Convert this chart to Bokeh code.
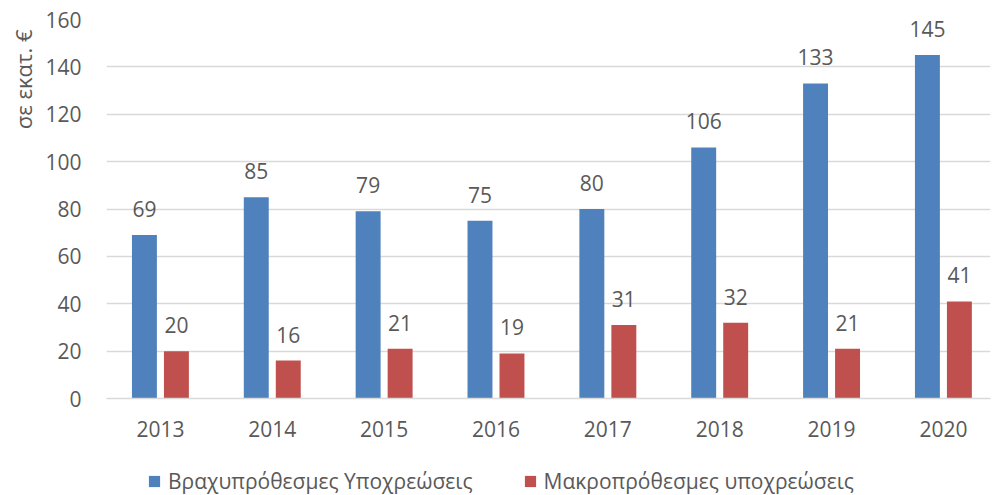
from bokeh.plotting import figure
from bokeh.layouts import column
from bokeh.models import ColumnDataSource, Range1d, FixedTicker, Legend, LegendItem, Title
from bokeh.transform import dodge
from bokeh.core.properties import value
from bokeh.embed import file_html
from bokeh.resources import INLINE

years = [2013, 2014, 2015, 2016, 2017, 2018, 2019, 2020]
short_term = [69, 85, 79, 75, 80, 106, 133, 145]
long_term = [20, 16, 21, 19, 31, 32, 21, 41]
series_names = ["Βραχυπρόθεσμες Υποχρεώσεις", "Μακροπρόθεσμες υποχρεώσεις"]
y_label = "σε εκατ. €"
y_ticks = [0, 20, 40, 60, 80, 100, 120, 140, 160]

BLUE = "#4F81BD"
RED = "#C0504D"
TXT = "#595959"
GRID = "#D9D9D9"
FONT = "Open Sans"

src = ColumnDataSource(dict(
    year=years,
    s=short_term,
    l=long_term,
    s_lbl=[str(v) for v in short_term],
    l_lbl=[str(v) for v in long_term],
))

p = figure(width=992, height=455, output_backend="svg", toolbar_location=None,
           x_range=Range1d(2012.518, 2020.421), y_range=Range1d(0, 160),
           min_border_top=19, min_border_right=2, min_border_left=104,
           min_border_bottom=57)

p.outline_line_color = None
p.background_fill_color = "white"

bw = 0.223
off = 0.143
p.vbar(x=dodge("year", -off, range=p.x_range), top="s", width=bw, source=src,
       fill_color=BLUE, line_color=None)
p.vbar(x=dodge("year", off, range=p.x_range), top="l", width=bw, source=src,
       fill_color=RED, line_color=None)

p.text(x=dodge("year", -off, range=p.x_range), y="s", text="s_lbl", source=src,
       text_align="center", text_baseline="alphabetic", y_offset=-26,
       text_font=value(FONT), text_font_size="21px", text_color=TXT)
p.text(x=dodge("year", off, range=p.x_range), y="l", text="l_lbl", source=src,
       text_align="center", text_baseline="alphabetic", y_offset=-26,
       text_font=value(FONT), text_font_size="21px", text_color=TXT)

# axes
p.xaxis.ticker = FixedTicker(ticks=years)
p.yaxis.ticker = FixedTicker(ticks=y_ticks)
for ax in (p.xaxis[0], p.yaxis[0]):
    ax.major_tick_line_color = None
    ax.minor_tick_line_color = None
    ax.major_tick_out = 0
    ax.minor_tick_out = 0
    ax.major_label_text_font = FONT
    ax.major_label_text_font_size = "21px"
    ax.major_label_text_color = TXT
p.xaxis.axis_line_color = GRID
p.xaxis.axis_line_width = 1.3
p.yaxis.axis_line_color = None
p.xaxis.major_label_standoff = 22
p.yaxis.major_label_standoff = 25

p.xgrid.grid_line_color = None
p.ygrid.grid_line_color = GRID
p.ygrid.grid_line_width = 1.3
p.ygrid.ticker = FixedTicker(ticks=y_ticks)

t = Title(text=y_label, align="right", offset=10, text_font=FONT, text_font_size="22px",
          text_font_style="normal", text_color=TXT)
p.add_layout(t, "left")

# legend strip below the chart (its renderers lie outside its visible range)
lg = figure(width=992, height=40, output_backend="svg", toolbar_location=None,
            x_range=Range1d(2012.5, 2020.418), y_range=Range1d(1000, 1001),
            min_border=0, min_border_left=0, min_border_right=0,
            min_border_top=0, min_border_bottom=0)
lg.axis.visible = False
lg.grid.visible = False
lg.outline_line_color = None
l1 = lg.vbar(x="year", top="s", width=bw, source=src, fill_color=BLUE, line_color=None)
l2 = lg.vbar(x="year", top="l", width=bw, source=src, fill_color=RED, line_color=None)

legend = Legend(items=[LegendItem(label=series_names[0], renderers=[l1]),
                       LegendItem(label=series_names[1], renderers=[l2])],
                orientation="horizontal", location=(41, 0),
                glyph_width=14, glyph_height=14, label_standoff=7, spacing=50,
                padding=0, margin=0, border_line_color=None,
                background_fill_alpha=0,
                label_text_font=FONT, label_text_font_size="21px",
                label_text_color=TXT)
lg.add_layout(legend, "center")

layout = column(p, lg, spacing=0)
open("out.html", "w").write(file_html(layout, INLINE))
